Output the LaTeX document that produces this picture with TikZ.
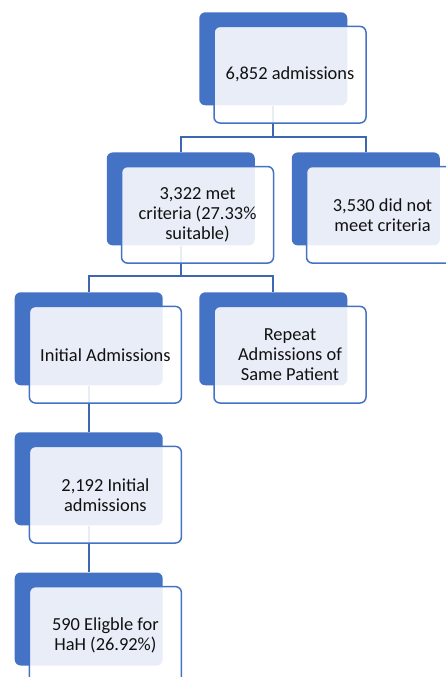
\documentclass[tikz,border=0pt]{standalone}
\usepackage{fontspec}
\setmainfont{Carlito}
\usetikzlibrary{positioning,calc}
\definecolor{accent}{HTML}{4472C4}
\definecolor{linkblue}{HTML}{3E67B1}
\definecolor{textgray}{HTML}{111111}

\tikzset{
  backbox/.style={fill=accent,rounded corners=6pt,minimum width=148pt,minimum height=93pt,inner sep=0pt},
  frontbox/.style={draw=accent,line width=1.5pt,fill=white,fill opacity=0.88,text opacity=1,
    rounded corners=6pt,minimum width=152pt,minimum height=96.6pt,inner sep=0pt,align=center,
    text=textgray,font=\fontsize{18.4}{20}\selectfont},
  link/.style={draw=linkblue,line width=1.8pt}
}

\begin{document}
\begin{tikzpicture}[x=1pt,y=-1pt]
  \useasboundingbox (0,0) rectangle (445,677);
  % Pestañas azules de fondo
  \node[backbox] (bAdm)    at (273.3,58.8) {};
  \node[backbox] (bMet)    at (180.8,198.9) {};
  \node[backbox] (bNotMet) at (365.8,198.9) {};
  \node[backbox] (bInit)   at (88.7,338.8) {};
  \node[backbox] (bRepeat) at (273.3,338.8) {};
  \node[backbox] (bFirst)  at (88.7,478.8) {};
  \node[backbox] (bHaH)    at (88.7,619) {};

  % Conectores
  \draw[link] (bAdm.south) -- ++(0,31.4) coordinate (jAdm);
  \draw[link] (jAdm) -| (bMet.north);
  \draw[link] (jAdm) -| (bNotMet.north);
  \draw[link] (bMet.south) -- ++(0,30.7) coordinate (jMet);
  \draw[link] (jMet) -| (bInit.north);
  \draw[link] (jMet) -| (bRepeat.north);
  \draw[link] (bInit.south) -- (bFirst.north);
  \draw[link] (bFirst.south) -- (bHaH.north);

  % Cuadros con texto
  \node[frontbox] (adm)    at ([shift={(16.7,15.9)}]bAdm.center) {6,852 admissions};
  \node[frontbox] (met)    at ([shift={(16.7,15.9)}]bMet.center) {3,322 met\\criteria (27.33\%\\suitable)};
  \node[frontbox] (notMet) at ([shift={(16.7,15.9)}]bNotMet.center) {3,530 did not\\meet criteria};
  \node[frontbox] (init)   at ([shift={(16.7,15.9)}]bInit.center) {Initial Admissions};
  \node[frontbox] (repeat) at ([shift={(16.7,15.9)}]bRepeat.center) {Repeat\\Admissions of\\Same Patient};
  \node[frontbox] (first)  at ([shift={(16.7,15.9)}]bFirst.center) {2,192 Initial\\admissions};
  \node[frontbox] (hah)    at ([shift={(16.7,15.9)}]bHaH.center) {590 Eligble for\\HaH (26.92\%)};
\end{tikzpicture}
\end{document}
